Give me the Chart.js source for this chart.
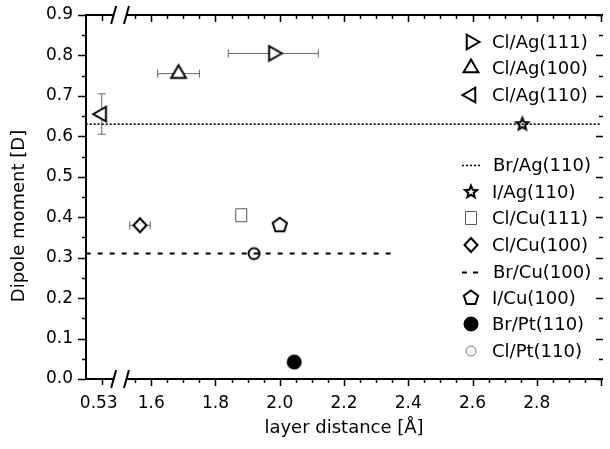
<!DOCTYPE html>
<html>
<head>
<meta charset="utf-8">
<title>Dipole moment vs layer distance</title>
<script src="https://cdn.jsdelivr.net/npm/chart.js@4.4.1/dist/chart.umd.min.js"></script>
<style>
  body { margin: 0; background: #fff; }
  canvas { display: block; }
</style>
</head>
<body>
<canvas id="dipoleChart" width="610" height="449"></canvas>
<script>
// values: layer distance in Å, dipole moment in D
const systems   = ['Cl/Ag(111)', 'Cl/Ag(100)', 'Cl/Ag(110)', 'Br/Ag(110)', 'I/Ag(110)', 'Cl/Cu(111)',
                   'Cl/Cu(100)', 'Br/Cu(100)', 'I/Cu(100)', 'Br/Pt(110)', 'Cl/Pt(110)'];
const layerDist = [1.98, 1.685, 0.53, null, 2.755, 1.88, 1.565, null, 2.0, 2.045, 1.92];
const dipole    = [0.805, 0.755, 0.655, 0.63, 0.63, 0.405, 0.38, 0.31, 0.38, 0.042, 0.31];
const distErr   = [0.14, 0.065, 0, 0, 0, 0, 0.032, 0, 0, 0, 0];
const dipoleErr = [0, 0, 0.05, 0, 0, 0, 0, 0, 0, 0, 0];
// systems with no layer distance are drawn as horizontal lines over this x span
const brAg110Span = [0.48, 3.0];
const brCu100Span = [0.48, 2.35];

const xTicks = [0.53, 1.6, 1.8, 2.0, 2.2, 2.4, 2.6, 2.8];
const xTickLabels = ['0.53', '1.6', '1.8', '2.0', '2.2', '2.4', '2.6', '2.8'];
const yTicks = [0, 0.1, 0.2, 0.3, 0.4, 0.5, 0.6, 0.7, 0.8, 0.9];
const yTickLabels = ['0.0', '0.1', '0.2', '0.3', '0.4', '0.5', '0.6', '0.7', '0.8', '0.9'];

// broken x axis: the small segment near 0.53 is shifted next to 1.5
const SHIFT = 0.916;
const toAxis = x => x < 1 ? x + SHIFT : x;
const BREAK_FROM = 1.483, BREAK_TO = 1.523;

const markerOf = ['triRight', 'triUp', 'triLeft', 'dotted', 'star', 'square', 'diamond', 'dashed', 'pentagon', 'dot', 'ring'];
const legendY = [42, 68, 95, 165, 192, 218, 245, 272, 298, 324, 351];

function poly(g, cx, cy, r, n, startDeg) {
    for (let i = 0; i < n; i++) {
        let a = (startDeg + i * 360 / n) * Math.PI / 180;
        let px = cx + r * Math.cos(a), py = cy + r * Math.sin(a);
        if (i === 0) g.moveTo(px, py); else g.lineTo(px, py);
    }
}

function drawShape(g, kind, x, y) {
    g.save();
    g.strokeStyle = '#000';
    g.fillStyle = '#fff';
    g.lineWidth = 2;
    g.lineJoin = 'miter';
    g.beginPath();
    if (kind === 'triRight') poly(g, x, y, 8.5, 3, 0);
    else if (kind === 'triUp') poly(g, x, y, 8.5, 3, -90);
    else if (kind === 'triLeft') poly(g, x, y, 8.5, 3, 180);
    else if (kind === 'pentagon') poly(g, x, y, 7.5, 5, -90);
    else if (kind === 'star') {
        for (let i = 0; i < 10; i++) {
            let a = (-90 + i * 36) * Math.PI / 180;
            let r = i % 2 ? 2.8 : 6.3;
            let px = x + r * Math.cos(a), py = y + r * Math.sin(a);
            if (i === 0) g.moveTo(px, py); else g.lineTo(px, py);
        }
    } else if (kind === 'diamond') {
        g.moveTo(x, y - 7); g.lineTo(x + 6.5, y); g.lineTo(x, y + 7); g.lineTo(x - 6.5, y);
    } else if (kind === 'square') {
        g.strokeStyle = '#555';
        g.lineWidth = 1;
        g.rect(x - 5.5, y - 6.5, 11, 13);
    } else if (kind === 'dot') {
        g.arc(x, y, 6.5, 0, Math.PI * 2);
        g.fillStyle = '#000';
    } else if (kind === 'ring') {
        g.arc(x, y, 5.5, 0, Math.PI * 2);
    } else if (kind === 'ringThin') {
        g.strokeStyle = '#777';
        g.lineWidth = 1;
        g.arc(x, y, 5, 0, Math.PI * 2);
    }
    g.closePath();
    g.fill();
    g.stroke();
    g.restore();
}

function markerCanvas(kind) {
    let c = document.createElement('canvas');
    c.width = 24;
    c.height = 24;
    drawShape(c.getContext('2d'), kind, 12, 12);
    return c;
}

let datasets = [];
systems.forEach((name, i) => {
    let kind = markerOf[i];
    if (layerDist[i] === null) {
        let span = name === 'Br/Ag(110)' ? brAg110Span : brCu100Span;
        datasets.push({
            label: name,
            data: span.map(x => ({ x: toAxis(x), y: dipole[i] })),
            showLine: true,
            borderColor: '#000',
            borderWidth: kind === 'dotted' ? 1.6 : 2,
            borderDash: kind === 'dotted' ? [2, 2] : [5, 7],
            pointRadius: 0
        });
    } else {
        datasets.push({
            label: name,
            data: [{ x: toAxis(layerDist[i]), y: dipole[i] }],
            pointStyle: markerCanvas(kind),
            pointRadius: 6,
            pointHoverRadius: 6
        });
    }
});

const errorBars = {
    id: 'errorBars',
    beforeDatasetsDraw(chart) {
        let ctx = chart.ctx, xs = chart.scales.x, ys = chart.scales.y;
        ctx.save();
        ctx.strokeStyle = '#666';
        ctx.lineWidth = 1;
        ctx.beginPath();
        systems.forEach((name, i) => {
            if (layerDist[i] === null) return;
            let py = ys.getPixelForValue(dipole[i]);
            let px = xs.getPixelForValue(toAxis(layerDist[i]));
            if (distErr[i] > 0) {
                let a = xs.getPixelForValue(toAxis(layerDist[i] - distErr[i]));
                let b = xs.getPixelForValue(toAxis(layerDist[i] + distErr[i]));
                ctx.moveTo(a, py); ctx.lineTo(b, py);
                ctx.moveTo(a, py - 4); ctx.lineTo(a, py + 4);
                ctx.moveTo(b, py - 4); ctx.lineTo(b, py + 4);
            }
            if (dipoleErr[i] > 0) {
                let a = ys.getPixelForValue(dipole[i] - dipoleErr[i]);
                let b = ys.getPixelForValue(dipole[i] + dipoleErr[i]);
                ctx.moveTo(px, a); ctx.lineTo(px, b);
                ctx.moveTo(px - 4, a); ctx.lineTo(px + 4, a);
                ctx.moveTo(px - 4, b); ctx.lineTo(px + 4, b);
            }
        });
        ctx.stroke();
        ctx.restore();
    }
};

const brokenAxes = {
    id: 'brokenAxes',
    afterDatasetsDraw(chart) {
        let ctx = chart.ctx, xs = chart.scales.x, ys = chart.scales.y;
        let { left: L, right: R, top: T, bottom: B } = chart.chartArea;
        let b1 = xs.getPixelForValue(BREAK_FROM), b2 = xs.getPixelForValue(BREAK_TO);
        ctx.save();
        ctx.strokeStyle = '#000';
        ctx.lineWidth = 2;
        ctx.beginPath();
        // left axis
        ctx.moveTo(L, T - 1); ctx.lineTo(L, B + 1);
        // bottom and top axes with a gap
        [B, T].forEach(y => {
            ctx.moveTo(L, y); ctx.lineTo(b1, y);
            ctx.moveTo(b2, y); ctx.lineTo(R, y);
            ctx.moveTo(b1 + 2.5, y - 9); ctx.lineTo(b1 - 2.5, y + 9);
            ctx.moveTo(b2 + 2.5, y - 9); ctx.lineTo(b2 - 2.5, y + 9);
        });
        ctx.stroke();

        ctx.lineWidth = 1.5;
        ctx.beginPath();
        // y ticks, outward on the left, inward on the right
        for (let v = 0; v <= 18; v++) {
            let py = Math.round(ys.getPixelForValue(v * 0.05)) + 0.5;
            let major = v % 2 === 0;
            ctx.moveTo(L - (major ? 8 : 4), py); ctx.lineTo(L, py);
            ctx.moveTo(R - (major ? 7 : 4), py); ctx.lineTo(R, py);
        }
        // x ticks: labelled ones long, every 0.05 short
        let px53 = Math.round(xs.getPixelForValue(toAxis(0.53))) + 0.5;
        ctx.moveTo(px53, B); ctx.lineTo(px53, B + 6);
        ctx.moveTo(px53, T); ctx.lineTo(px53, T + 6);
        for (let k = 31; k <= 60; k++) {
            let v = k * 0.05;
            let px = Math.round(xs.getPixelForValue(v)) + 0.5;
            let major = k % 4 === 0;
            ctx.moveTo(px, B); ctx.lineTo(px, B + (major ? 7 : 4));
            ctx.moveTo(px, T); ctx.lineTo(px, T + (major ? 7 : 4));
        }
        ctx.stroke();

        ctx.fillStyle = '#000';
        ctx.font = '17px "DejaVu Sans"';
        ctx.textAlign = 'right';
        ctx.textBaseline = 'middle';
        yTicks.forEach((v, i) => ctx.fillText(yTickLabels[i], L - 13, ys.getPixelForValue(v)));
        ctx.textAlign = 'center';
        xTicks.forEach((v, i) => ctx.fillText(xTickLabels[i], xs.getPixelForValue(toAxis(v)) - (v < 1 ? 3 : 0), B + 25));

        ctx.font = '18px "DejaVu Sans"';
        ctx.fillText('layer distance [Å]', 344, B + 49);
        ctx.translate(19, 216);
        ctx.rotate(-Math.PI / 2);
        ctx.fillText('Dipole moment [D]', 0, 0);
        ctx.restore();
    }
};

const insideLegend = {
    id: 'insideLegend',
    afterDraw(chart) {
        let ctx = chart.ctx;
        ctx.save();
        ctx.font = '18px "DejaVu Sans"';
        ctx.fillStyle = '#000';
        ctx.textAlign = 'left';
        ctx.textBaseline = 'middle';
        systems.forEach((name, i) => {
            let y = legendY[i], kind = markerOf[i];
            if (kind === 'dotted' || kind === 'dashed') {
                ctx.save();
                ctx.strokeStyle = '#000';
                ctx.lineWidth = kind === 'dotted' ? 1.5 : 2;
                ctx.setLineDash(kind === 'dotted' ? [2, 2] : [5, 6]);
                ctx.beginPath();
                ctx.moveTo(462, y + 0.5); ctx.lineTo(480, y + 0.5);
                ctx.stroke();
                ctx.restore();
            } else {
                drawShape(ctx, kind === 'ring' ? 'ringThin' : kind, 471, y);
            }
            ctx.fillText(name, kind === 'dashed' || kind === 'dotted' ? 493 : 492, y + 1);
        });
        ctx.restore();
    }
};

new Chart(document.getElementById('dipoleChart'), {
    type: 'scatter',
    data: { datasets: datasets },
    options: {
        responsive: false,
        animation: false,
        layout: { padding: { left: 86, right: 0, top: 15, bottom: 70 } },
        scales: {
            x: { type: 'linear', display: false, min: 1.397, max: 3.006 },
            y: { type: 'linear', display: false, min: 0, max: 0.9 }
        },
        plugins: {
            legend: { display: false },
            tooltip: { enabled: false }
        }
    },
    plugins: [errorBars, brokenAxes, insideLegend]
});
</script>
</body>
</html>
